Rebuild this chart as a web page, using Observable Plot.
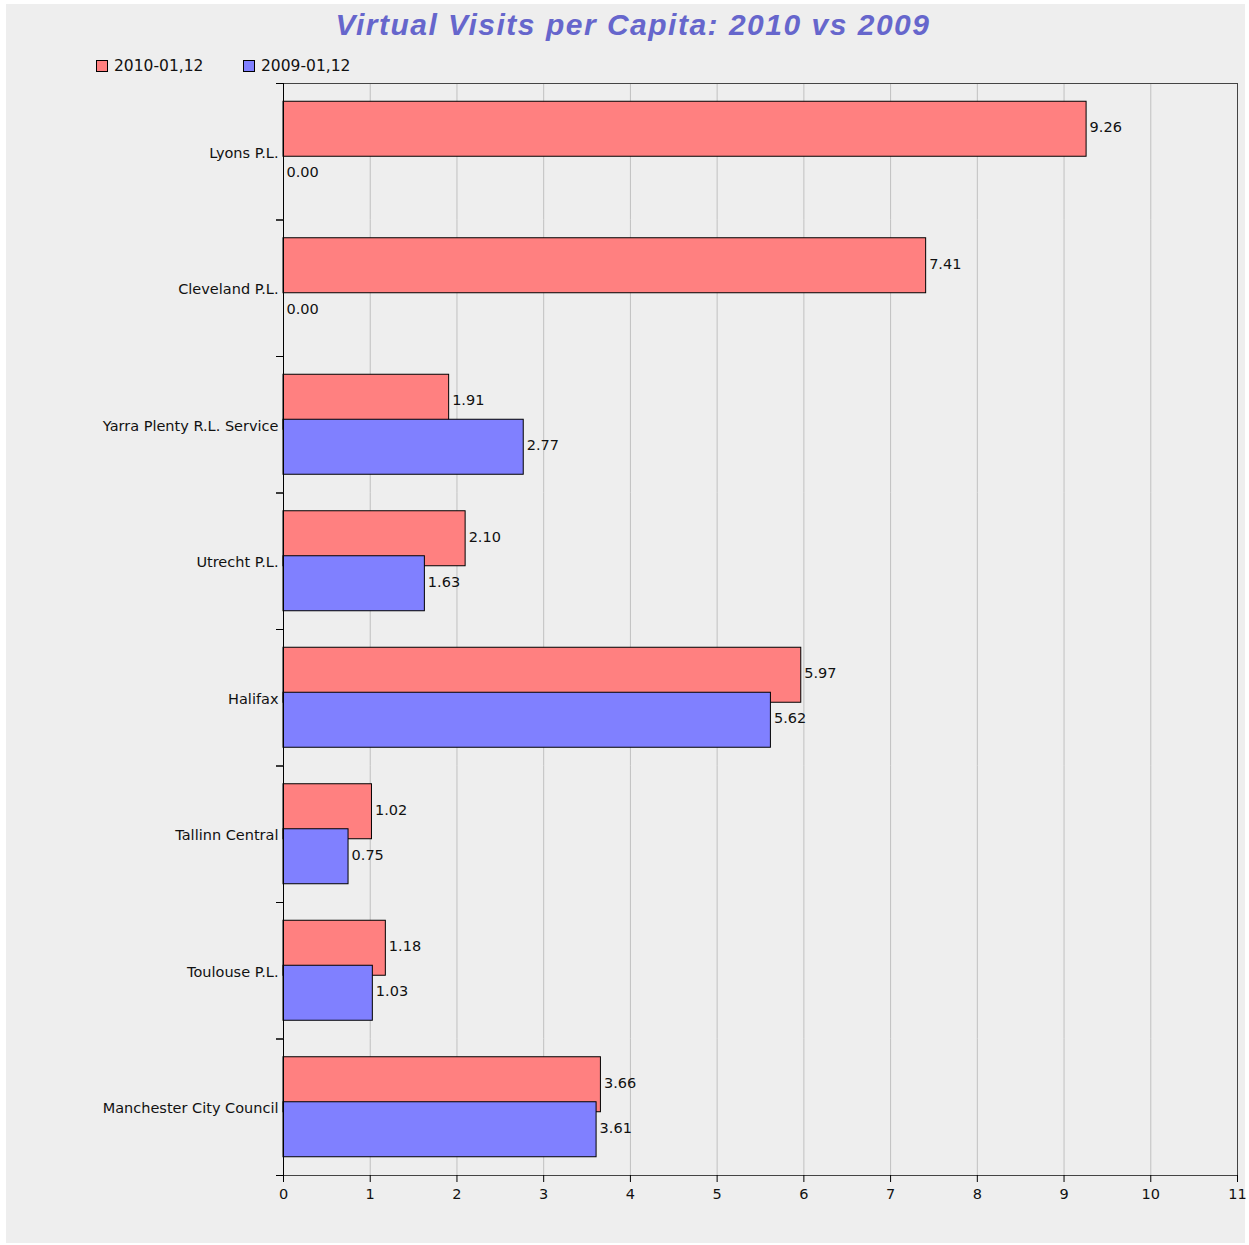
<!DOCTYPE html>
<html>
<head>
<meta charset="utf-8">
<script src="https://cdn.jsdelivr.net/npm/d3@7"></script>
<script src="https://cdn.jsdelivr.net/npm/@observablehq/plot@0.6"></script>
<style>
  html, body { margin: 0; padding: 0; background: #ffffff; }
  #page { position: relative; width: 1249px; height: 1245px; overflow: hidden; }
  #bg { position: absolute; left: 6px; top: 4px; width: 1239px; height: 1239px; background: #eeeeee; }
  #title { position: absolute; left: 0; width: 1266px; top: 10px; text-align: center;
    font-family: "Liberation Sans", Arial, sans-serif; font-weight: bold; font-style: italic;
    font-size: 30px; line-height: 30px; letter-spacing: 1.5px; color: #6666cc; white-space: nowrap; }
  .leg { position: absolute; top: 58px; font-family: "DejaVu Sans", sans-serif; font-size: 15.5px; line-height: 17px; color: #111; white-space: nowrap; }
  .sw { position: absolute; width: 10px; height: 10px; border: 1px solid #000; top: 60px; }
  #chart { position: absolute; left: 0; top: 75px; }
</style>
</head>
<body>
<div id="page">
  <div id="bg"></div>
  <div id="title"></div>
  <div id="legend"></div>
  <div id="chart"></div>
</div>
<script>
const title = "Virtual Visits per Capita: 2010 vs 2009";
const categories = ["Lyons P.L.", "Cleveland P.L.", "Yarra Plenty R.L. Service", "Utrecht P.L.", "Halifax", "Tallinn Central", "Toulouse P.L.", "Manchester City Council"];
const series = ["2010-01,12", "2009-01,12"];
const v2010 = [9.26, 7.41, 1.91, 2.10, 5.97, 1.02, 1.18, 3.66];
const v2009 = [0.00, 0.00, 2.77, 1.63, 5.62, 0.75, 1.03, 3.61];
const xTicks = [0, 1, 2, 3, 4, 5, 6, 7, 8, 9, 10, 11];
const colors = ["#ff8080", "#8080ff"];

document.getElementById("title").textContent = title;

// legend
const legend = document.getElementById("legend");
const legX = [96, 243];
series.forEach((s, i) => {
  const sw = document.createElement("div");
  sw.className = "sw";
  sw.style.left = legX[i] + "px";
  sw.style.background = colors[i];
  legend.appendChild(sw);
  const t = document.createElement("div");
  t.className = "leg";
  t.style.left = (legX[i] + 18) + "px";
  t.textContent = s;
  legend.appendChild(t);
});

const values = [v2010, v2009];
const data = series.flatMap((s, si) => categories.map((c, i) => ({cat: c, series: s, value: values[si][i]})));

const W = 1249, H = 1170, MT = 8, MB = 70, ML = 283, MR = 12;
const band = (H - MT - MB) / categories.length;

const chart = Plot.plot({
  width: W, height: H,
  marginTop: MT, marginBottom: MB, marginLeft: ML, marginRight: MR,
  style: {fontFamily: "DejaVu Sans, sans-serif", fontSize: "14.5px", background: "transparent", color: "#111"},
  x: {domain: [0, 11], label: null},
  y: {domain: series, paddingInner: -0.2222, paddingOuter: 0.4056, round: false, axis: null},
  fy: {domain: categories, padding: 0, round: false, label: null, axis: null},
  color: {domain: series, range: colors},
  marks: [
    Plot.gridX(xTicks, {stroke: "#c0c0c0", strokeOpacity: 1}),
    Plot.barX(data.filter(d => d.value > 0), {x: "value", y: "series", fy: "cat", fill: "series", stroke: "#000", strokeWidth: 1}),
    Plot.text(data, {x: "value", y: "series", fy: "cat", text: d => d.value.toFixed(2), textAnchor: "start", dx: 3, dy: -1.5, fill: "#111"}),
    Plot.frame({facet: "super", stroke: "#444"}),
    Plot.ruleX([0], {stroke: "#000"}),
    Plot.axisX(xTicks, {tickSize: 7, tickPadding: 6, label: null, stroke: "#000", fill: "#111"}),
    Plot.axisFy({anchor: "left", tickSize: 0, tickPadding: 5, dy: 1.5, label: null, fill: "#111"}),
    Plot.axisFy({anchor: "left", tickSize: 7, tickFormat: () => "", dy: band / 2, label: null, stroke: "#000"}),
    Plot.axisFy({anchor: "left", tickSize: 7, tickFormat: () => "", dy: -band / 2, label: null, stroke: "#000"})
  ]
});
document.getElementById("chart").appendChild(chart);
</script>
</body>
</html>
